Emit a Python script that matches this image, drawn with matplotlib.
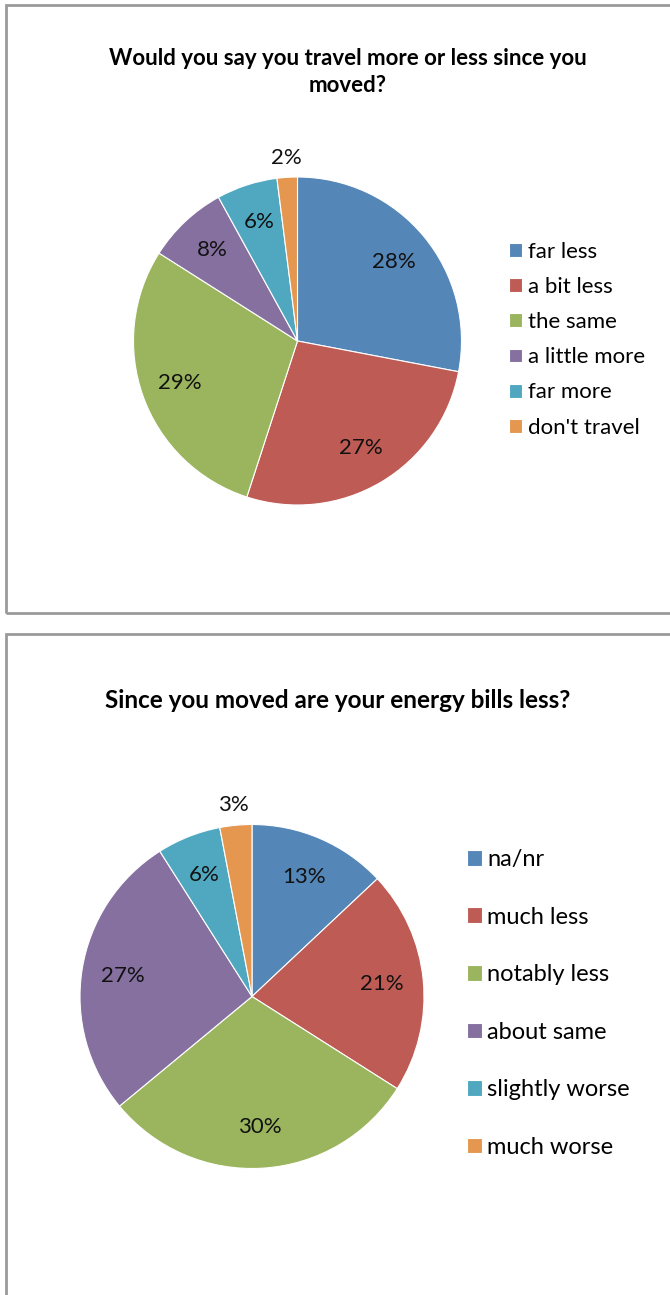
import matplotlib.pyplot as plt
from matplotlib.patches import Rectangle

plt.rcParams['font.family'] = ['Lato', 'DejaVu Sans']

W, H = 670, 1295

travel_title = 'Would you say you travel more or less since you\nmoved?'
travel_labels = ['far less', 'a bit less', 'the same', 'a little more', 'far more', "don't travel"]
travel_pct = [28, 27, 29, 8, 6, 2]

energy_title = 'Since you moved are your energy bills less?'
energy_labels = ['na/nr', 'much less', 'notably less', 'about same', 'slightly worse', 'much worse']
energy_pct = [13, 21, 30, 27, 6, 3]

colors = ['#5586B8', '#BE5B55', '#9BB55E', '#8570A0', '#4FA8C0', '#E59750']


def px_box(cx, cy, r):
    # axes rect (figure fraction) for a pie centred at pixel (cx, cy) with radius r
    return [(cx - r) / W, (H - cy - r) / H, 2 * r / W, 2 * r / H]


def draw_pie(fig, cx, cy, r, values, labels, title, title_x, title_y, title_size,
             leg_x, leg_y, leg_size, leg_spacing, handle, pad):
    ax = fig.add_axes(px_box(cx, cy, r))
    wedges, texts, autotexts = ax.pie(
        values, colors=colors, startangle=90, counterclock=False,
        autopct=lambda p: '%d%%' % round(p), pctdistance=0.76,
        wedgeprops=dict(edgecolor='white', linewidth=0.8),
        textprops=dict(fontsize=16, color='#111111'))
    # tiny slices get their label pushed outside the pie
    for v, t in zip(values, autotexts):
        if v <= 3:
            x, y = t.get_position()
            t.set_position((x * 1.12 / 0.76, y * 1.12 / 0.76))
    ax.set_xlim(-1, 1)
    ax.set_ylim(-1, 1)

    fig.text(title_x / W, 1 - title_y / H, title, ha='center', va='center',
             fontsize=title_size, fontweight='bold', color='#000000',
             linespacing=1.3)

    ax.legend(wedges, labels, loc='upper left',
              bbox_to_anchor=(leg_x / W, 1 - leg_y / H),
              bbox_transform=fig.transFigure, frameon=False,
              fontsize=leg_size, handlelength=handle, handleheight=handle,
              handletextpad=pad, labelspacing=leg_spacing,
              borderpad=0, borderaxespad=0)
    return ax


fig = plt.figure(figsize=(W / 100, H / 100), dpi=100)

# chart frames
for y0, y1 in [(5, 613), (634, 1320)]:
    fig.patches.append(Rectangle((6 / W, 1 - y1 / H), 700 / W, (y1 - y0) / H,
                                 transform=fig.transFigure, fill=False,
                                 edgecolor='#9a9a9a', linewidth=2))

draw_pie(fig, 297.5, 341, 164, travel_pct, travel_labels, travel_title,
         347.5, 72, 16, 509, 242, 16, 0.68, 0.59, 0.27)
draw_pie(fig, 252, 996.5, 172, energy_pct, energy_labels, energy_title,
         337.5, 700, 17.5, 467, 849, 17, 1.55, 0.64, 0.21)

fig.savefig('out.png', dpi=100)
